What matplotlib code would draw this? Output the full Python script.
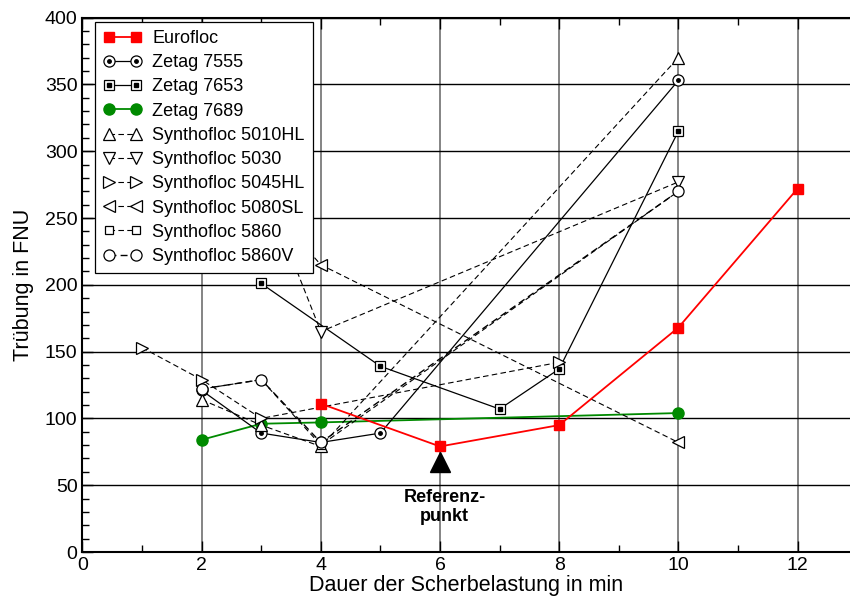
import matplotlib
matplotlib.use("Agg")
import matplotlib.pyplot as plt
from matplotlib.legend_handler import HandlerTuple
from matplotlib.ticker import MultipleLocator

plt.rcParams['font.family'] = ['Liberation Sans', 'DejaVu Sans']

# Daten (Trübung in FNU über Dauer der Scherbelastung in min)
x_euro = [4, 6, 8, 10, 12]
y_euro = [111, 79, 95, 168, 272]
x_z7555 = [2, 3, 4, 5, 10]
y_z7555 = [121, 89, 82, 89, 353]
x_z7653 = [3, 5, 7, 8, 10]
y_z7653 = [201, 139, 107, 137, 315]
x_z7689 = [2, 3, 4, 10]
y_z7689 = [84, 96, 97, 104]
x_s5010 = [2, 3, 4, 10]
y_s5010 = [114, 95, 79, 370]
x_s5030 = [3, 4, 10]
y_s5030 = [278, 165, 277]
x_s5045 = [1, 2, 3, 8]
y_s5045 = [153, 129, 100, 142]
x_s5080 = [3, 4, 10]
y_s5080 = [265, 215, 82]
x_s5860 = [2, 3, 4, 10]
y_s5860 = [122, 129, 80, 270]
x_s5860v = [2, 3, 4, 10]
y_s5860v = [122, 129, 82, 270]

ref_x = 6
ref_y = 67
ref_text = "Referenz-\npunkt"

fig = plt.figure(figsize=(8.5, 6.05), dpi=100)
ax = fig.add_axes([0.097, 0.0876, 0.903, 0.8833])

dash = (0, (5, 3))
mw = dict(markerfacecolor='white', markeredgecolor='black', markeredgewidth=0.9)

h_euro, = ax.plot(x_euro, y_euro, '-', color='#ff0000', lw=1.3, marker='s', ms=6.5,
                  markeredgecolor='#ff0000', zorder=5)
h_z7555a, = ax.plot(x_z7555, y_z7555, '-', color='black', lw=0.9, marker='o', ms=8, zorder=4, **mw)
h_z7555b, = ax.plot(x_z7555, y_z7555, ' ', marker='o', ms=2.5, color='black', zorder=4)
h_z7653a, = ax.plot(x_z7653, y_z7653, '-', color='black', lw=0.9, marker='s', ms=7.5, zorder=4, **mw)
h_z7653b, = ax.plot(x_z7653, y_z7653, ' ', marker='s', ms=3, color='black', zorder=4)
h_z7689, = ax.plot(x_z7689, y_z7689, '-', color='#008a00', lw=1.3, marker='o', ms=8,
                   markeredgecolor='#008a00', zorder=3)
h_s5010, = ax.plot(x_s5010, y_s5010, linestyle=dash, color='black', lw=0.8, marker='^', ms=8, zorder=4, **mw)
h_s5030, = ax.plot(x_s5030, y_s5030, linestyle=dash, color='black', lw=0.8, marker='v', ms=8, zorder=4, **mw)
h_s5045, = ax.plot(x_s5045, y_s5045, linestyle=dash, color='black', lw=0.8, marker='>', ms=8, zorder=4, **mw)
h_s5080, = ax.plot(x_s5080, y_s5080, linestyle=dash, color='black', lw=0.8, marker='<', ms=8, zorder=4, **mw)
h_s5860, = ax.plot(x_s5860, y_s5860, linestyle=dash, color='black', lw=0.8, marker='s', ms=5.5, zorder=4, **mw)
h_s5860v, = ax.plot(x_s5860v, y_s5860v, linestyle=dash, color='black', lw=1.0, marker='o', ms=8, zorder=4, **mw)

# Referenzpunkt
ax.plot([ref_x], [ref_y], marker='^', ms=14, color='black', linestyle=' ', zorder=6)
ax.text(ref_x + 0.08, 47, ref_text, ha='center', va='top', fontsize=13,
        fontweight='bold', linespacing=1.1)

ax.set_xlim(0, 12.88)
ax.set_ylim(0, 400)
ax.xaxis.set_major_locator(MultipleLocator(2))
ax.xaxis.set_minor_locator(MultipleLocator(1))
ax.yaxis.set_major_locator(MultipleLocator(50))
ax.yaxis.set_minor_locator(MultipleLocator(10))
ax.tick_params(which='both', direction='in', top=True, labelsize=14, width=1)
ax.tick_params(which='major', length=8)
ax.tick_params(which='minor', length=5)
ax.xaxis.grid(True, color='#707070', lw=1.2)
ax.yaxis.grid(True, color='black', lw=1.0)
ax.set_axisbelow(True)
ax.spines['right'].set_visible(False)
for s in ['left', 'top', 'bottom']:
    ax.spines[s].set_linewidth(1.5)

ax.set_xlabel("Dauer der Scherbelastung in min", fontsize=15.5, labelpad=1)
ax.set_ylabel("Trübung in FNU", fontsize=15.5, labelpad=8)

handles = [h_euro, (h_z7555a, h_z7555b), (h_z7653a, h_z7653b), h_z7689, h_s5010,
           h_s5030, h_s5045, h_s5080, h_s5860, h_s5860v]
labels = ["Eurofloc", "Zetag 7555", "Zetag 7653", "Zetag 7689", "Synthofloc 5010HL",
          "Synthofloc 5030", "Synthofloc 5045HL", "Synthofloc 5080SL", "Synthofloc 5860",
          "Synthofloc 5860V"]
leg = ax.legend(handles, labels, loc='upper left', bbox_to_anchor=(0.017, 0.992),
                handler_map={tuple: HandlerTuple(ndivide=1, pad=0)}, numpoints=2,
                fontsize=13, frameon=True, fancybox=False, edgecolor='black',
                framealpha=1, handlelength=2.1, labelspacing=0.4, borderpad=0.45,
                handletextpad=0.6, borderaxespad=0)
leg.get_frame().set_linewidth(0.9)
leg.set_zorder(10)

fig.savefig("out.png", dpi=100)
